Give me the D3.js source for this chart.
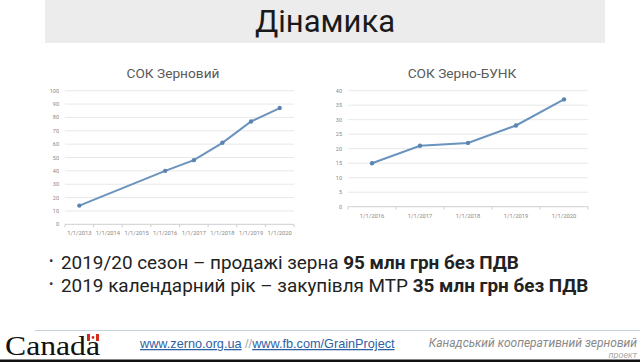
<!DOCTYPE html>
<html>
<head>
<meta charset="utf-8">
<script src="https://cdn.jsdelivr.net/npm/d3@7"></script>
<style>
  body { margin: 0; background: #fff; }
  svg { display: block; }
</style>
</head>
<body>
<script>
// chart data
var grainYears = ['1/1/2013', '1/1/2014', '1/1/2015', '1/1/2016', '1/1/2017', '1/1/2018', '1/1/2019', '1/1/2020'];
var grainValues = [14, null, null, 40, 48, 61, 77, 87];
var bunkYears = ['1/1/2016', '1/1/2017', '1/1/2018', '1/1/2019', '1/1/2020'];
var bunkValues = [15, 21, 22, 28, 37];
var grainTicks = [0, 10, 20, 30, 40, 50, 60, 70, 80, 90, 100];
var bunkTicks = [0, 5, 10, 15, 20, 25, 30, 35, 40];

var svg = d3.select('body').append('svg')
  .attr('width', 640)
  .attr('height', 362)
  .attr('font-family', 'Roboto, sans-serif');

// slide title bar
svg.append('rect')
  .attr('x', 45).attr('y', 0)
  .attr('width', 560).attr('height', 43)
  .attr('fill', '#ececec');

svg.append('text')
  .attr('x', 325).attr('y', 32)
  .attr('text-anchor', 'middle')
  .attr('font-size', 31)
  .attr('fill', '#1a1a1a')
  .text('Дінамика');

// draws one small line chart
function drawChart(opts) {
  var x = d3.scaleBand()
    .domain(opts.cats)
    .range([opts.left, opts.right]);

  var y = d3.scaleLinear()
    .domain(opts.domain)
    .range([opts.bottom, opts.top]);

  var g = svg.append('g');

  // gridlines
  g.selectAll('.grid')
    .data(opts.ticks)
    .enter()
    .append('line')
    .attr('x1', opts.left)
    .attr('x2', opts.right)
    .attr('y1', d => y(d))
    .attr('y2', d => y(d))
    .attr('stroke', d => d === 0 ? '#cfcfcf' : '#e8e8e8')
    .attr('stroke-width', 1);

  // y labels
  g.selectAll('.ylab')
    .data(opts.ticks)
    .enter()
    .append('text')
    .attr('x', opts.left - 6)
    .attr('y', d => y(d) + 2)
    .attr('text-anchor', 'end')
    .attr('font-size', 5.5)
    .attr('fill', '#888')
    .text(d => d);

  // small ticks on the x axis between categories
  var edges = opts.cats.map(c => x(c)).concat([opts.right]);
  g.selectAll('.xtick')
    .data(edges)
    .enter()
    .append('line')
    .attr('x1', d => d).attr('x2', d => d)
    .attr('y1', opts.bottom).attr('y2', opts.bottom + 3)
    .attr('stroke', '#cfcfcf');

  // x labels
  g.selectAll('.xlab')
    .data(opts.cats)
    .enter()
    .append('text')
    .attr('x', d => x(d) + x.bandwidth() / 2)
    .attr('y', opts.bottom + 11)
    .attr('text-anchor', 'middle')
    .attr('font-size', 5.8)
    .attr('fill', '#888')
    .text(d => d);

  var pts = opts.cats
    .map((c, i) => ({ cat: c, val: opts.values[i] }))
    .filter(d => d.val != null);

  var line = d3.line()
    .x(d => x(d.cat) + x.bandwidth() / 2)
    .y(d => y(d.val));

  g.append('path')
    .datum(pts)
    .attr('d', line)
    .attr('fill', 'none')
    .attr('stroke', '#6a93bd')
    .attr('stroke-width', 2);

  g.selectAll('.dot')
    .data(pts)
    .enter()
    .append('circle')
    .attr('cx', d => x(d.cat) + x.bandwidth() / 2)
    .attr('cy', d => y(d.val))
    .attr('r', 2.2)
    .attr('fill', '#5a85b3');

  // chart title
  g.append('text')
    .attr('x', opts.titleX)
    .attr('y', 78)
    .attr('text-anchor', 'middle')
    .attr('font-size', 13.7)
    .attr('fill', '#5a5a5a')
    .text(opts.title);
}

drawChart({
  cats: grainYears, values: grainValues, ticks: grainTicks, domain: [0, 100],
  left: 65, right: 294, top: 90.7, bottom: 224.3,
  title: 'СОК Зерновий', titleX: 173
});

drawChart({
  cats: bunkYears, values: bunkValues, ticks: bunkTicks, domain: [0, 40],
  left: 348, right: 588, top: 90.7, bottom: 206.7,
  title: 'СОК Зерно-БУНК', titleX: 462
});

// bullet points
var bullets = [
  { plain: '2019/20 сезон – продажі зерна ', bold: '95 млн грн без ПДВ', y: 269 },
  { plain: '2019 календарний рік – закупівля МТР ', bold: '35 млн грн без ПДВ', y: 292 }
];

bullets.forEach(function(b) {
  svg.append('text')
    .attr('x', 49).attr('y', b.y - 4)
    .attr('font-size', 13)
    .attr('fill', '#333')
    .text('•');
  var t = svg.append('text')
    .attr('x', 61).attr('y', b.y)
    .attr('font-size', 18.9)
    .attr('fill', '#222');
  t.append('tspan').text(b.plain);
  t.append('tspan').attr('font-weight', 'bold').text(b.bold);
});

// footer
svg.append('line')
  .attr('x1', 35).attr('x2', 640)
  .attr('y1', 330.5).attr('y2', 330.5)
  .attr('stroke', '#c9d3dc');

svg.append('text')
  .attr('x', 5).attr('y', 355)
  .attr('font-family', '"Liberation Serif", serif')
  .attr('font-size', 28)
  .attr('textLength', 95)
  .attr('lengthAdjust', 'spacingAndGlyphs')
  .attr('fill', '#111')
  .text('Canada');

// little flag over the last letter
svg.append('rect').attr('x', 87).attr('y', 334).attr('width', 3).attr('height', 7).attr('fill', '#d52b1e');
svg.append('rect').attr('x', 90).attr('y', 334).attr('width', 6).attr('height', 7).attr('fill', '#fff');
svg.append('rect').attr('x', 96).attr('y', 334).attr('width', 3).attr('height', 7).attr('fill', '#d52b1e');
svg.append('circle').attr('cx', 93).attr('cy', 337.5).attr('r', 1.4).attr('fill', '#d52b1e');

var url = svg.append('text')
  .attr('x', 140).attr('y', 348)
  .attr('font-family', '"Liberation Sans Narrow", "Liberation Sans", sans-serif')
  .attr('font-size', 12.7)
  .attr('fill', '#2f62a3');
url.append('tspan').attr('text-decoration', 'underline').text('www.zerno.org.ua');
url.append('tspan').attr('fill', '#aaa').text(' //');
url.append('tspan').attr('text-decoration', 'underline').text('www.fb.com/GrainProject');

svg.append('text')
  .attr('x', 637).attr('y', 347)
  .attr('text-anchor', 'end')
  .attr('font-size', 12)
  .attr('font-style', 'italic')
  .attr('fill', '#888')
  .text('Канадський кооперативний зерновий');

svg.append('rect')
  .attr('x', 0).attr('y', 359.5)
  .attr('width', 640).attr('height', 2.5)
  .attr('fill', '#111');

svg.append('text')
  .attr('x', 637).attr('y', 357.5)
  .attr('text-anchor', 'end')
  .attr('font-size', 9)
  .attr('font-style', 'italic')
  .attr('fill', '#aaa')
  .text('проект');
</script>
</body>
</html>
